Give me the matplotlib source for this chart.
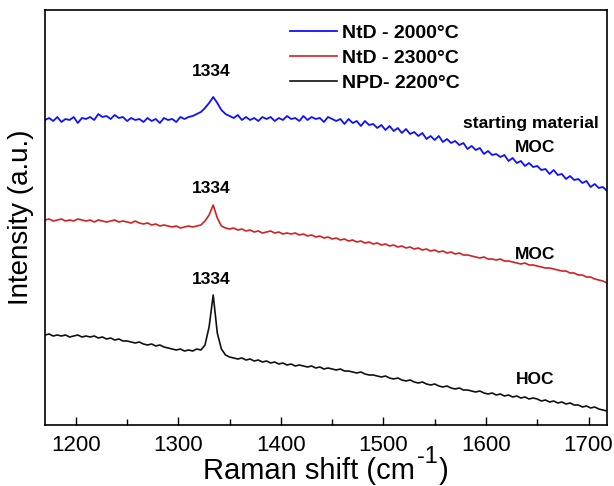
import numpy as np
import matplotlib
matplotlib.use("Agg")
import matplotlib.pyplot as plt
from matplotlib.ticker import MultipleLocator

plt.rcParams["font.family"] = ["Liberation Sans", "DejaVu Sans"]

# ---------------- data ----------------
shift = np.arange(1170, 1719, 4)   # Raman shift grid, cm^-1

ntd_2000 = [
    305, 307, 304, 308, 303, 306, 305, 308, 302, 307,
    306, 308, 305, 311, 308, 309, 306, 310, 307, 308,
    304, 307, 305, 306, 303, 307, 304, 306, 302, 307,
    305, 306, 303, 308, 306, 308, 309, 311, 313, 317,
    322, 328, 322, 315, 311, 309, 307, 310, 305, 308,
    305, 307, 304, 308, 306, 308, 304, 307, 305, 309,
    306, 307, 304, 309, 305, 308, 306, 307, 303, 308,
    306, 304, 306, 301, 306, 302, 304, 299, 304, 300,
    301, 297, 300, 295, 299, 294, 297, 292, 296, 291,
    293, 289, 292, 286, 289, 285, 289, 283, 286, 282,
    284, 280, 282, 276, 279, 275, 277, 271, 274, 270,
    271, 268, 270, 264, 267, 262, 264, 259, 262, 258,
    259, 255, 256, 251, 255, 250, 251, 246, 249, 245,
    246, 242, 244, 238, 241, 237, 238, 234,
]
ntd_2300 = [
    205, 206, 204, 205, 206, 204, 205, 204, 206, 205,
    204, 205, 203, 205, 204, 203, 204, 205, 203, 204,
    203, 202, 204, 202, 201, 202, 200, 201, 199, 200,
    199, 198, 199, 197, 198, 199, 198, 199, 200, 204,
    210, 220, 207, 199, 197, 196, 197, 195, 196, 194,
    195, 193, 194, 192, 193, 194, 192, 193, 191, 192,
    191, 192, 190, 191, 189, 190, 188, 189, 187, 188,
    186, 187, 185, 186, 184, 185, 183, 184, 182, 183,
    181, 182, 180, 181, 179, 180, 178, 179, 177, 178,
    176, 177, 175, 176, 174, 175, 173, 174, 172, 173,
    171, 172, 170, 170, 169, 168, 167, 168, 166, 166,
    165, 166, 164, 164, 163, 162, 161, 162, 160, 160,
    159, 158, 157, 157, 156, 155, 154, 154, 152, 152,
    150, 150, 148, 148, 146, 145, 144, 142,
]
npd_2200 = [
    90, 91, 89, 90, 89, 90, 88, 89, 90, 88,
    89, 88, 89, 87, 88, 86, 87, 85, 86, 84,
    84, 83, 82, 83, 81, 80, 81, 79, 80, 78,
    77, 76, 75, 76, 74, 75, 74, 76, 75, 80,
    98, 130, 92, 76, 70, 68, 67, 66, 67, 65,
    66, 64, 65, 63, 64, 62, 63, 61, 62, 60,
    61, 59, 60, 59, 58, 59, 57, 58, 56, 57,
    56, 55, 56, 54, 54, 53, 52, 53, 51, 50,
    50, 49, 48, 49, 47, 46, 47, 45, 44, 45,
    43, 42, 43, 41, 40, 41, 39, 38, 39, 37,
    36, 37, 35, 35, 34, 33, 34, 32, 31, 32,
    30, 31, 29, 30, 28, 29, 27, 28, 26, 27,
    26, 24, 25, 23, 24, 22, 23, 21, 22, 20,
    20, 18, 19, 17, 18, 16, 15, 14,
]

labels = ["NtD - 2000°C", "NtD - 2300°C", "NPD- 2200°C"]
colors = ["#1010ff", "#d42020", "#111111"]
peak_pos = 1334
peak_label_y = [353, 236, 145]
grade = ["MOC", "MOC", "HOC"]
grade_y = [277, 170, 45]

# ---------------- figure ----------------
fig = plt.figure(figsize=(6.14, 4.86), dpi=100)
ax = fig.add_axes([45 / 614, 61 / 486, 562 / 614, 415 / 486])

for ys, lab, c, lw in zip([ntd_2000, ntd_2300, npd_2200], labels, colors, [1.3, 1.2, 1.2]):
    ax.plot(shift, ys, color=c, lw=lw, label=lab)

for y in peak_label_y:
    ax.text(1332, y, str(peak_pos), ha="center", va="center",
            fontsize=12.5, fontweight="bold")
for g, y in zip(grade, grade_y):
    ax.text(1648, y, g, ha="center", va="center", fontsize=12.5, fontweight="bold")
ax.text(1644, 301, "starting material", ha="center", va="center",
        fontsize=12.5, fontweight="bold")

ax.set_xlim(1170, 1718)
ax.set_ylim(0, 415)
ax.set_yticks([])
ax.xaxis.set_major_locator(MultipleLocator(100))
ax.xaxis.set_minor_locator(MultipleLocator(50))
ax.tick_params(axis="x", which="major", direction="in", length=6, width=1,
               labelsize=16, pad=7)
ax.tick_params(axis="x", which="minor", direction="in", length=4, width=1)
for s in ax.spines.values():
    s.set_linewidth(1.2)

ax.set_ylabel("Intensity (a.u.)", fontsize=20, labelpad=8)

# x label built from pieces so the "-1" stays a big raised hyphen-one
t1 = fig.text(0.3, 7 / 486, "Raman shift (cm", fontsize=21, ha="left", va="baseline")
t2 = ax.annotate("-1", xy=(1, 1), xycoords=t1, xytext=(1, 0),
                 textcoords="offset points", fontsize=17, ha="left", va="center")
t3 = ax.annotate(")", xy=(1, 0), xycoords=(t2, t1), xytext=(1, 0),
                 textcoords="offset points", fontsize=21, ha="left", va="bottom")
fig.canvas.draw()
r = fig.canvas.get_renderer()
x0 = t1.get_window_extent(r).x0
x1 = t3.get_window_extent(r).x1
t1.set_x(t1.get_position()[0] + (326 - (x0 + x1) / 2) / 614)

ax.legend(loc="upper left", bbox_to_anchor=(290 / 614, 1 - 24 / 486),
          bbox_transform=fig.transFigure, frameon=False,
          prop={"size": 14, "weight": "bold"}, handlelength=2.4,
          handletextpad=0.3, labelspacing=0.38, borderpad=0,
          borderaxespad=0)

fig.savefig("out.png", dpi=100)
